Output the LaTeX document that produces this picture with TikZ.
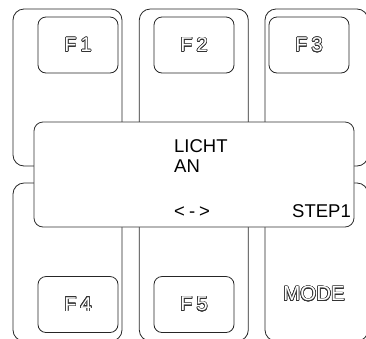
\documentclass[tikz,border=0pt]{standalone}
\usepackage{fontspec}
\setmainfont{Liberation Sans}
\usepackage{contour}
\contourlength{0.6pt}
\contournumber{24}
\usepackage{tikz}
\usetikzlibrary{positioning}
\tikzset{keyface/.style={draw=black!85, line width=0.8pt, rounded corners=11pt, inner sep=0pt, outer sep=0pt},
	lcd/.style={font=\fontsize{18.5}{18.5}\selectfont, inner sep=0pt}
}
\newcommand{\hollow}[1]{\contour{black!80}{\textcolor{white}{#1}}}

\begin{document}
\begin{tikzpicture}[x=1pt,y=-1pt]
\tikzstyle{bigkey} = [keyface, minimum width=109pt, minimum height=157pt]
\tikzstyle{fkey} = [draw=black!85, line width=0.8pt, rounded corners=8pt, minimum width=80pt, minimum height=56pt, inner sep=0pt,
font=\fontsize{20}{20}\selectfont]
\tikzstyle{screen} = [draw=black!80, line width=0.8pt, fill=white, rounded corners=9pt, minimum width=320pt, minimum height=105pt, inner sep=0pt]

\useasboundingbox (0,0) rectangle (366,338);
\clip (0,0) rectangle (366,338);

% key backs, upper row
\node [bigkey] (K1) at (67.5,87.5) {};
\node [bigkey] (K2) at (193.8,87.5) {};
\node [bigkey, minimum width=103pt] (K3) at (316.5,87.5) {};
% key backs, lower row
\node [bigkey, minimum height=158pt] (K4) at (67.5,262) {};
\node [bigkey, minimum height=158pt] (K5) at (193.8,262) {};
\node [bigkey, minimum width=103pt, minimum height=158pt] (K6) at (316.5,262) {};

% function keys
\node [fkey] (F1) at (78,45) {\hollow{F\kern4pt1}};
\node [fkey] (F2) at (194,45) {\hollow{F\kern4pt2}};
\node [fkey] (F3) at (309,45) {\hollow{F\kern4pt3}};
\node [fkey] (F4) at (78,304.5) {\hollow{F\kern4pt4}};
\node [fkey] (F5) at (194,304.5) {\hollow{F\kern4pt5}};
\node [font=\fontsize{20.5}{20.5}\selectfont, inner sep=0pt] (M) at (314,294) {\hollow{MODE}};

% display
\node [screen] (D) at (194,174.5) {};
\node [lcd, anchor=base west] (L1) at (174,152) {LICHT};
\node [lcd, anchor=base west] (L2) at (174,172) {AN};
\node [lcd, anchor=base west] (L3) at (174,217) {<\kern4pt-\kern4pt>};
\node [lcd, anchor=base east] (L4) at (351,217) {STEP1};
\end{tikzpicture}
\end{document}
